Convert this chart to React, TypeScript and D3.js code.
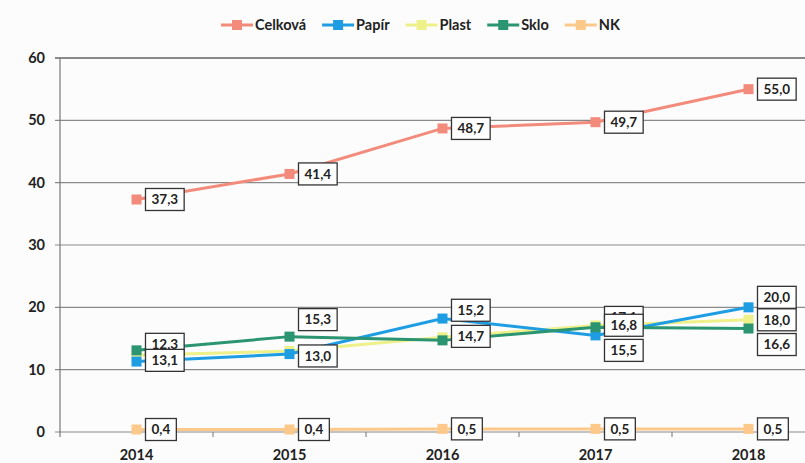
import React, { useRef, useEffect } from "react";
import * as d3 from "d3";

const years = ["2014", "2015", "2016", "2017", "2018"];
const celkova = [37.3, 41.4, 48.7, 49.7, 55.0];
const papir = [11.3, 12.5, 18.2, 15.5, 20.0];
const plast = [12.3, 13.0, 15.2, 17.1, 18.0];
const sklo = [13.1, 15.3, 14.7, 16.8, 16.6];
const nk = [0.4, 0.4, 0.5, 0.5, 0.5];
const yTicks = [0, 10, 20, 30, 40, 50, 60];

// label offsets (px from marker), null = no label shown
const celkovaDy = [0, 0, 0, 0, 0];
const papirDy = [null, null, null, 15, -10];
const plastDy = [-11, 5, -27, -8, 0];
const skloDy = [10, -17, -4, -2, 16];
const nkDy = [0, 0, 0, 0, 0];

const series = [
  { name: "Celková", values: celkova, dy: celkovaDy, color: "#f28b7b" },
  { name: "Papír", values: papir, dy: papirDy, color: "#1e9de3" },
  { name: "Plast", values: plast, dy: plastDy, color: "#eef08a" },
  { name: "Sklo", values: sklo, dy: skloDy, color: "#2b9470" },
  { name: "NK", values: nk, dy: nkDy, color: "#fdc98b" },
];

// drawing order of lines (back to front)
const lineOrder = ["NK", "Plast", "Papír", "Sklo", "Celková"];

const W = 805;
const H = 463;
const FONT = "Lato, 'Open Sans', sans-serif";

const App = () => {
  const svgRef = useRef<SVGSVGElement>(null);

  useEffect(() => {
    const svg = d3.select(svgRef.current);
    svg.selectAll("*").remove();

    const x = d3.scaleBand().domain(years).range([60, 825]).padding(0);
    const y = d3.scaleLinear().domain([0, 60]).range([432, 58]);
    const cx = (yr: string) => (x(yr) as number) + x.bandwidth() / 2;

    svg.append("rect").attr("width", W).attr("height", H).attr("fill", "#fcfcfc");

    // gridlines
    svg
      .append("g")
      .selectAll("line")
      .data(yTicks)
      .join("line")
      .attr("x1", 55)
      .attr("x2", W)
      .attr("y1", (d) => y(d))
      .attr("y2", (d) => y(d))
      .attr("stroke", (d) => (d === 60 ? "#666" : "#8a8a8a"))
      .attr("stroke-width", (d) => (d === 60 ? 1.6 : 1.1));

    // y axis line
    svg
      .append("line")
      .attr("x1", 60)
      .attr("x2", 60)
      .attr("y1", y(60))
      .attr("y2", y(0) + 5)
      .attr("stroke", "#777")
      .attr("stroke-width", 1.2);

    // x ticks
    svg
      .append("g")
      .selectAll("line")
      .data(years.slice(1))
      .join("line")
      .attr("x1", (d) => x(d) as number)
      .attr("x2", (d) => x(d) as number)
      .attr("y1", y(0))
      .attr("y2", y(0) + 5)
      .attr("stroke", "#777");

    // y labels
    svg
      .append("g")
      .selectAll("text")
      .data(yTicks)
      .join("text")
      .attr("x", 45)
      .attr("y", (d) => y(d))
      .attr("dy", "0.35em")
      .attr("text-anchor", "end")
      .attr("font-family", FONT)
      .attr("font-weight", 700)
      .attr("font-size", 14.5)
      .attr("fill", "#222")
      .text((d) => d);

    // x labels
    svg
      .append("g")
      .selectAll("text")
      .data(years)
      .join("text")
      .attr("x", (d) => cx(d))
      .attr("y", 455)
      .attr("dy", "0.35em")
      .attr("text-anchor", "middle")
      .attr("font-family", FONT)
      .attr("font-weight", 700)
      .attr("font-size", 14.5)
      .attr("fill", "#222")
      .text((d) => d);

    const line = d3
      .line<number>()
      .x((_, i) => cx(years[i]))
      .y((d) => y(d));

    lineOrder.forEach((nm) => {
      const s = series.find((q) => q.name === nm)!;
      const g = svg.append("g");
      g.append("path")
        .attr("d", line(s.values))
        .attr("fill", "none")
        .attr("stroke", s.color)
        .attr("stroke-width", 3);
      g.selectAll("rect")
        .data(s.values)
        .join("rect")
        .attr("x", (_, i) => cx(years[i]) - 5)
        .attr("y", (d) => y(d) - 5)
        .attr("width", 10)
        .attr("height", 10)
        .attr("fill", s.color);
    });

    // data labels
    const fmt = (v: number) => v.toFixed(1).replace(".", ",");
    series.forEach((s) => {
      s.values.forEach((v, i) => {
        const dy = s.dy[i];
        if (dy === null) return;
        const px = cx(years[i]) + 9;
        const py = y(v) + dy;
        const g = svg.append("g");
        const r = g.append("rect");
        const t = g
          .append("text")
          .attr("y", py)
          .attr("dy", "0.36em")
          .attr("text-anchor", "middle")
          .attr("font-family", FONT)
          .attr("font-weight", 700)
          .attr("font-size", 13.5)
          .attr("fill", "#222")
          .text(fmt(v));
        const tw = (t.node() as SVGTextElement).getComputedTextLength();
        const bw = tw + 12;
        t.attr("x", px + bw / 2);
        r.attr("x", px)
          .attr("y", py - 11)
          .attr("width", bw)
          .attr("height", 22)
          .attr("fill", "#fff")
          .attr("stroke", "#333")
          .attr("stroke-width", 1.3);
      });
    });

    // legend
    let lx = 221;
    series.forEach((s) => {
      const g = svg.append("g");
      g.append("line")
        .attr("x1", lx)
        .attr("x2", lx + 32)
        .attr("y1", 25)
        .attr("y2", 25)
        .attr("stroke", s.color)
        .attr("stroke-width", 3);
      g.append("rect")
        .attr("x", lx + 11)
        .attr("y", 20)
        .attr("width", 10)
        .attr("height", 10)
        .attr("fill", s.color);
      const t = g
        .append("text")
        .attr("x", lx + 34)
        .attr("y", 25)
        .attr("dy", "0.35em")
        .attr("font-family", FONT)
        .attr("font-weight", 700)
        .attr("font-size", 14.5)
        .attr("fill", "#222")
        .text(s.name);
      lx += 34 + (t.node() as SVGTextElement).getComputedTextLength() + 16;
    });
  }, []);

  return (
    <svg
      ref={svgRef}
      width={W}
      height={H}
      viewBox={`0 0 ${W} ${H}`}
      style={{ position: "absolute", left: 0, top: 0 }}
    />
  );
};

export default App;
